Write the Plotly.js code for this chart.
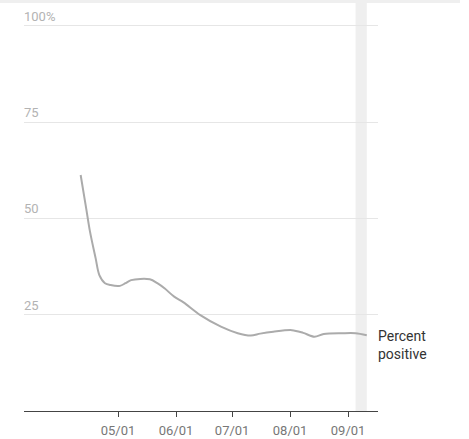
<!DOCTYPE html>
<html>
<head>
<meta charset="utf-8">
<script src="https://cdn.plot.ly/plotly-3.0.1.min.js"></script>
<style>html,body{margin:0;padding:0;background:#fff;}#chart{width:469px;height:439px;}</style>
</head>
<body>
<div id="chart"></div>
<script>
const dates = ['2020-04-11','2020-04-14','2020-04-16','2020-04-19','2020-04-21','2020-04-24','2020-04-27','2020-05-02','2020-05-05','2020-05-08','2020-05-18','2020-05-22','2020-05-26','2020-05-31','2020-06-05','2020-06-14','2020-06-25','2020-07-04','2020-07-11','2020-07-16','2020-07-23','2020-08-02','2020-08-08','2020-08-14','2020-08-19','2020-08-29','2020-09-05','2020-09-11'];
const percentPositive = [61.3,52.5,46.6,39.7,35.3,33.2,32.7,32.5,33.2,34.0,34.2,33.2,31.8,29.7,28.2,24.9,21.9,20.2,19.6,20.1,20.6,21.0,20.3,19.3,20.0,20.2,20.2,19.7];
const yTickVals = [25,50,75,100];
const yTickText = ['25','50','75','100%'];
const xTickVals = ['2020-05-01','2020-06-01','2020-07-01','2020-08-01','2020-09-01'];
const xTickText = ['05/01','06/01','07/01','08/01','09/01'];
const bandStart = '2020-09-05';
const bandEnd = '2020-09-11';
const seriesLabel = 'Percent<br>positive';

const trace = {
  x: dates, y: percentPositive, type: 'scatter', mode: 'lines',
  line: {color: '#ababab', width: 2, shape: 'spline', smoothing: 0.9},
  hoverinfo: 'skip'
};

const annotations = yTickVals.map((v, i) => ({
  x: 0, xref: 'paper', y: v, yref: 'y', text: yTickText[i],
  showarrow: false, xanchor: 'left', yanchor: 'bottom', yshift: 0, xshift: -2,
  font: {family: 'Roboto', size: 13, color: '#b3b3b3'}
}));
annotations.push({
  x: dates[dates.length - 1], y: percentPositive[percentPositive.length - 1],
  xref: 'x', yref: 'y', text: seriesLabel, showarrow: false,
  xanchor: 'left', yanchor: 'middle', xshift: 9, yshift: -10, align: 'left',
  font: {family: 'Roboto', size: 14, color: '#333333'}
});

const layout = {
  width: 469, height: 439,
  margin: {l: 24, r: 91, t: 3, b: 28},
  paper_bgcolor: '#ffffff', plot_bgcolor: '#ffffff',
  showlegend: false,
  xaxis: {
    type: 'date', range: ['2020-03-11 17:00', '2020-09-17'],
    tickvals: xTickVals, ticktext: xTickText,
    showgrid: false, zeroline: false,
    showline: true, linecolor: '#444444', linewidth: 1,
    ticks: 'outside', ticklen: 5, tickcolor: '#444444', tickwidth: 1,
    ticklabelstandoff: 2,
    tickfont: {family: 'Roboto', size: 13, color: '#777777'}
  },
  yaxis: {
    range: [0, 105.97], tickvals: yTickVals, showticklabels: false,
    showgrid: true, gridcolor: '#e6e6e6', gridwidth: 1, zeroline: false,
    showline: false, ticks: ''
  },
  shapes: [
    {type: 'rect', xref: 'x', yref: 'paper', x0: bandStart, x1: bandEnd, y0: 0, y1: 1,
     fillcolor: '#efefef', line: {width: 0}, layer: 'below'},
    {type: 'rect', xref: 'paper', yref: 'paper', x0: -0.068, x1: 1.2316, y0: 1, y1: 1.0074,
     fillcolor: '#efefef', line: {width: 0}, layer: 'below'}
  ],
  annotations: annotations
};

Plotly.newPlot('chart', [trace], layout, {displayModeBar: false, staticPlot: true});
</script>
</body>
</html>
